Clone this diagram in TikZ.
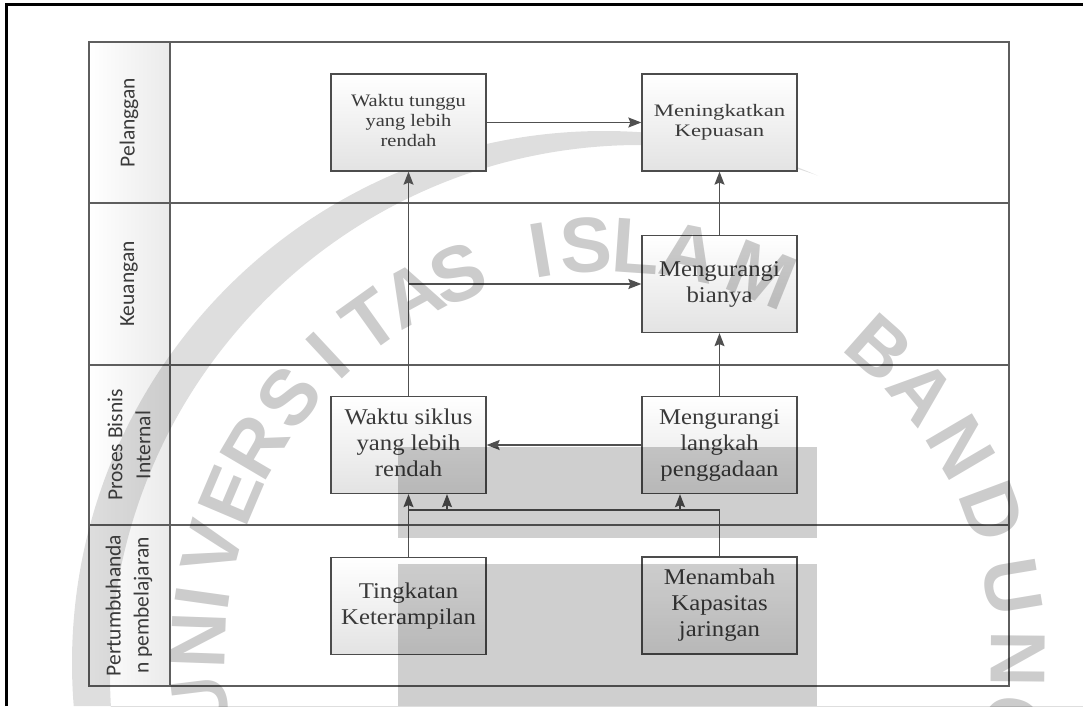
\documentclass[tikz,border=0pt]{standalone}
\usepackage{fontspec}
\usepackage{graphicx}
\setmainfont{Liberation Serif}
\newfontfamily\lanefont{Carlito}
\newfontfamily\wmfont{Liberation Sans}
\usetikzlibrary{arrows.meta}
\definecolor{gridline}{HTML}{5E5E5E}
\definecolor{boxline}{HTML}{4C4C4C}
\definecolor{boxtext}{HTML}{3A3A3A}
\definecolor{lanetext}{HTML}{3A3A3A}
\definecolor{wire}{HTML}{505050}
% box label, slightly widened
\newcommand{\boxlabel}[2]{\scalebox{#1}[1]{\begin{tabular}{@{}c@{}}#2\end{tabular}}}
\begin{document}
\begin{tikzpicture}[x=1pt,y=-1pt,
  grid/.style={draw=gridline,line width=1.3pt},
  lane/.style={rotate=90,align=center,text=lanetext,inner sep=0pt,
    font=\lanefont\fontsize{21.5}{28}\selectfont},
  goal/.style={draw=boxline,line width=1.3pt,top color=white,bottom color=black!11,
    minimum width=155pt,minimum height=97pt,inner sep=0pt,text=boxtext,
    font=\fontsize{22.5}{26}\selectfont},
  goalsmall/.style={goal,font=\fontsize{17.5}{20}\selectfont},
  arr/.style={draw=wire,line width=1.3pt,
    -{Stealth[length=13pt,width=10pt,inset=2pt,fill=wire]}},
  veil/.style={fill=black,opacity=0.19},
  wm/.style={text=black,text opacity=0.2,inner sep=0pt,
    font=\wmfont\bfseries\fontsize{78}{78}\selectfont}
]
\useasboundingbox (0,0) rectangle (1083,706);
\fill[white] (0,0) rectangle (1083,706);

% page frame
\draw[line width=3pt] (6.5,706) -- (6.5,4.5) -- (1083,4.5);

% lanes
\fill[left color=white,right color=black!8] (89,42) rectangle (170,686);
\draw[grid] (89,42) rectangle (1009,686);
\draw[grid] (170,42) -- (170,686);
\draw[grid] (89,203) -- (1009,203);
\draw[grid] (89,365) -- (1009,365);
\draw[grid] (89,525) -- (1009,525);

% seal crescent
\begin{scope}
  \clip (604,663) circle[radius=532];
  \fill[black,opacity=0.13,even odd rule] (0,0) rectangle (1083,706)
    (640,675) circle[radius=530];
\end{scope}

\node[lane] (l1) at (129,122.5) {Pelanggan};
\node[lane] (l2) at (129,284) {Keuangan};
\node[lane] (l3) at (129,445) {Proses Bisnis\\Internal};
\node[lane] (l4) at (129,605.5) {Pertumbuhanda\\n pembelajaran};

% objectives
\node[goalsmall] (b1) at (408.5,122.5) {\boxlabel{1.17}{Waktu tunggu\\yang lebih\\rendah}};
\node[goalsmall] (b2) at (719.5,122.5) {\boxlabel{1.3}{Meningkatkan\\Kepuasan}};
\node[goal] (b3) at (719.5,284) {\boxlabel{1.1}{Mengurangi\\bianya}};
\node[goal] (b4) at (719.5,445) {\boxlabel{1.1}{Mengurangi\\langkah\\penggadaan}};
\node[goal] (b5) at (408.5,445) {\boxlabel{1.1}{Waktu siklus\\yang lebih\\rendah}};
\node[goal] (b6) at (408.5,606) {\boxlabel{1.1}{Tingkatan\\Keterampilan}};
\node[goal] (b7) at (719.5,605.5) {\boxlabel{1.1}{Menambah\\Kapasitas\\jaringan}};

% links
\coordinate (busL) at (447,510);
\coordinate (busR) at (680,510);
\draw[arr] (b1.east) -- (b2.west);
\draw[arr] (b5.north) -- (b1.south);
\draw[arr] (b5.north |- b3.west) -- (b3.west);
\draw[arr] (b3.north) -- (b2.south);
\draw[arr] (b4.north) -- (b3.south);
\draw[arr] (b4.west) -- (b5.east);
\draw[arr] (b6.north) -- (b5.south);
\draw[arr] (b7.north) |- (busL) -- (busL |- b5.south);
\draw[arr] (b6.north) |- (busR) -- (busR |- b4.south);

% grey bands
\fill[veil] (398,447) rectangle (817,538);
\fill[veil] (398,564) rectangle (817,706);

% seal lettering
\foreach \ch/\a [count=\i] in {U/187,N/178,I/172,V/165,E/157,R/149.5,S/141,I/133,
    T/125.5,A/118.5,S/111.5,I/99.5,S/93,L/86,A/78.5,M/68,
    B/48.5,A/40,N/30.5,D/20.5,U/9.5,N/-0.5,G/-10}
  \node[wm,rotate=\a-90] (wm\i) at ({608+410*cos(\a)},{655-410*sin(\a)}) {\ch};
\end{tikzpicture}
\end{document}
